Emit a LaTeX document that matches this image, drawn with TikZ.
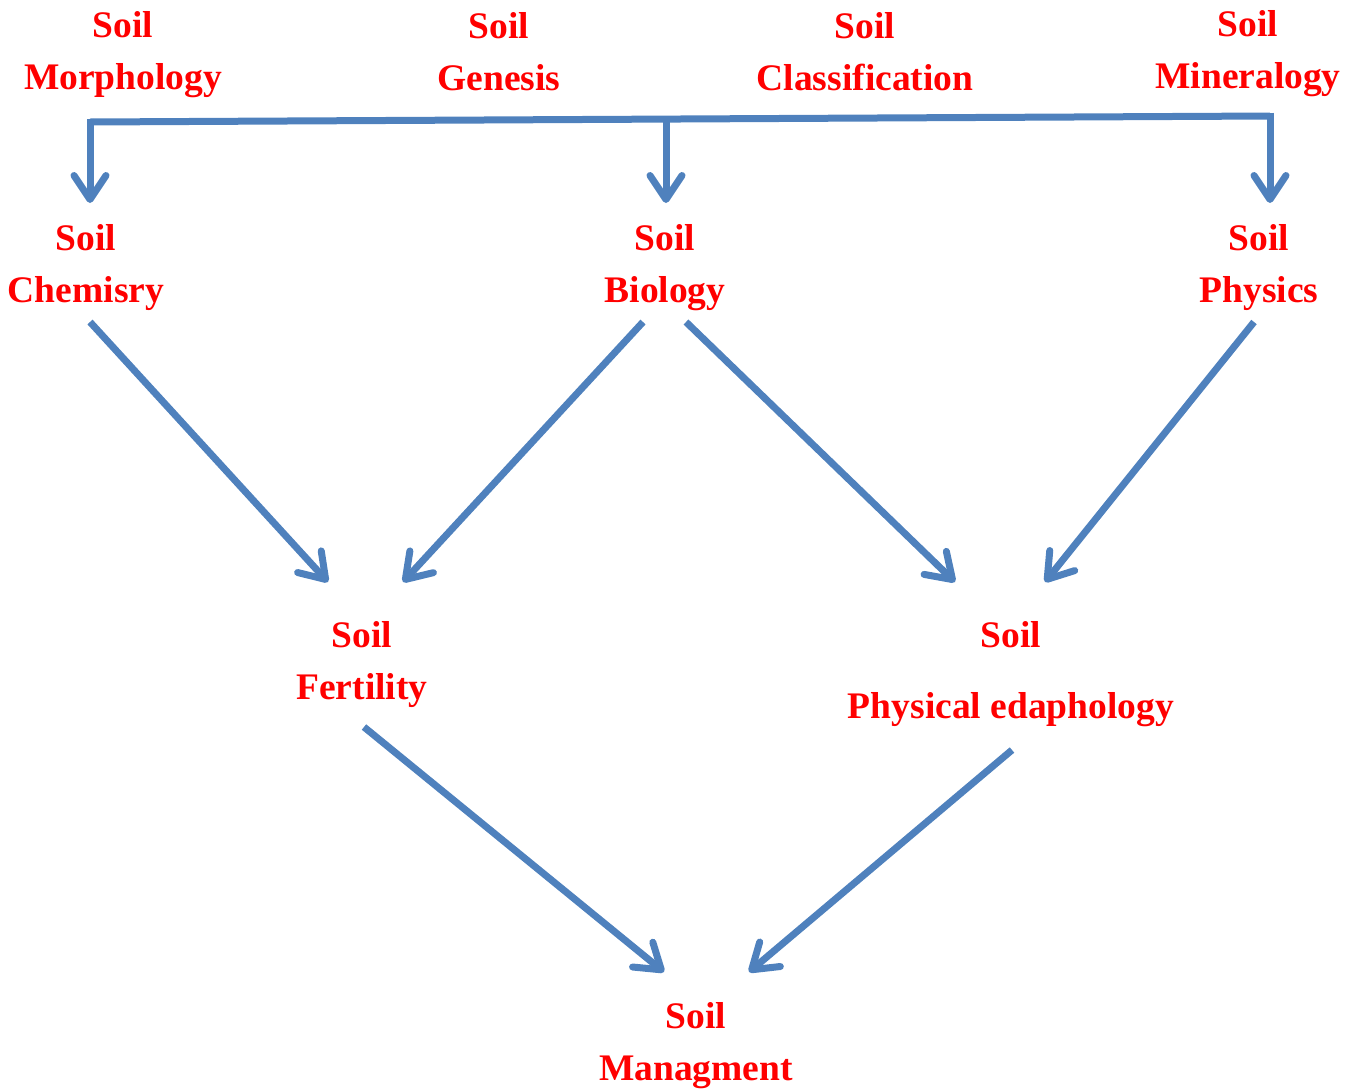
\documentclass[tikz,border=0pt]{standalone}
\usepackage{fontspec}
\setmainfont{Liberation Serif}
\usetikzlibrary{arrows.meta,calc}
\definecolor{arrowblue}{HTML}{4F81BD}
\definecolor{labelred}{HTML}{FF0000}
\begin{document}
\begin{tikzpicture}[x=1pt,y=-1pt,
  lbl/.style={anchor=base,align=center,inner sep=0pt,text=labelred,
    font=\fontsize{37.5}{52}\selectfont\bfseries},
  arr/.style={draw=arrowblue,line width=7pt,line join=miter,
    -{Straight Barb[round,length=24pt,width=32pt]}},
  bus/.style={draw=arrowblue,line width=7pt,line join=miter}]
\useasboundingbox (0,0) rectangle (1360,1090);
% labels (anchored at the baseline of the last line)
\node[lbl] (morph) at (123,89) {Soil\\Morphology};
\node[lbl] (gen)   at (499,90) {Soil\\Genesis};
\node[lbl] (class) at (865,90) {Soil\\Classification};
\node[lbl] (miner) at (1248,88) {Soil\\Mineralogy};
\node[lbl] (chem)  at (86,302) {Soil\\Chemisry};
\node[lbl] (bio)   at (665,302) {Soil\\Biology};
\node[lbl] (phys)  at (1259,302) {Soil\\Physics};
\node[lbl] (fert)  at (362,699) {Soil\\Fertility};
\node[lbl] (edaph) at (1011,718) {Soil\\[19pt]Physical edaphology};
\node[lbl] (mgmt)  at (696,1080) {Soil\\Managment};
% bus
\coordinate (busL) at (90,122);
\coordinate (busM) at (666,119);
\coordinate (busR) at (1270,116);
\draw[bus] (busL) -- (busR);
\draw[arr] ($(busL)+(0,-3.5)$) -- ($(chem.base)+(4,-99)$);
\draw[arr] (busM) -- ($(bio.base)+(1,-99)$);
\draw[arr] ($(busR)+(0,-3.5)$) -- ($(phys.base)+(11,-99)$);
% diagonals
\draw[arr] ($(chem.base)+(4,20)$) -- ($(fert.base)+(-34,-117)$);
\draw[arr] ($(bio.base)+(-22,20)$) -- ($(fert.base)+(41,-117)$);
\draw[arr] ($(bio.base)+(21,20)$) -- ($(edaph.base)+(-56,-136)$);
\draw[arr] ($(phys.base)+(-5,20)$) -- ($(edaph.base)+(34,-136)$);
\draw[arr] ($(fert.base)+(2,28)$) -- ($(mgmt.base)+(-32,-108)$);
\draw[arr] ($(edaph.base)+(1,32)$) -- ($(mgmt.base)+(53,-108)$);
\end{tikzpicture}
\end{document}
